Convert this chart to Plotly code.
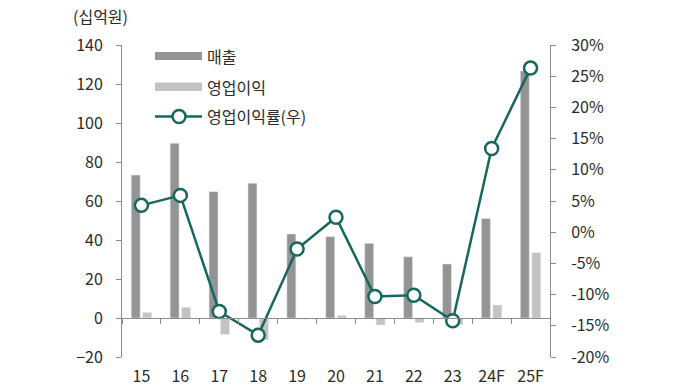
import plotly.graph_objects as go

categories = ["15", "16", "17", "18", "19", "20", "21", "22", "23", "24F", "25F"]
revenue = [73.3, 89.6, 64.8, 69.1, 43.1, 41.7, 38.3, 31.4, 27.7, 51.0, 126.7]
op_profit = [2.9, 5.5, -8.4, -11.3, -0.6, 1.3, -3.6, -2.4, -3.4, 6.7, 33.5]
op_margin = [4.3, 5.9, -12.7, -16.5, -2.7, 2.4, -10.3, -10.1, -14.2, 13.4, 26.3]

left_ticks = list(range(-20, 141, 20))
right_ticks = list(range(-20, 31, 5))

FONT = "Noto Sans CJK KR, Noto Sans, sans-serif"
TXT = "#2b2b2b"
AX = "#8c8c8c"
C_REV = "#949494"
C_OP = "#c3c3c3"
C_LINE = "#17675f"
FS = 16

fig = go.Figure()
fig.add_trace(go.Bar(x=categories, y=revenue, name="매출", marker_color=C_REV,
                     offsetgroup="a", showlegend=False))
fig.add_trace(go.Bar(x=categories, y=op_profit, name="영업이익", marker_color=C_OP,
                     offsetgroup="b", showlegend=False))
fig.add_trace(go.Scatter(x=categories, y=op_margin, name="영업이익률(우)", yaxis="y2",
                         mode="lines+markers",
                         line=dict(color=C_LINE, width=2.5),
                         marker=dict(size=13, color="white", line=dict(color=C_LINE, width=2.5)),
                         showlegend=False))
# invisible trace to carry the zero-line axis
fig.add_trace(go.Scatter(x=categories, y=[0] * len(categories), xaxis="x2", mode="none",
                         showlegend=False, hoverinfo="skip"))

# page coordinates of plot area (body margin removed by post_script)
PL, PR, PT, PB = 122, 550, 45, 357
W, H = 680, 390
L, T = PL, PT
R = W - PR
B = H - PB
pw, ph = PR - PL, PB - PT
xr = [-0.5, len(categories) - 0.5]

def px(x):
    return (x - PL) / pw

def py(y):
    return (PB - y) / ph

shapes = [
    dict(type="rect", xref="paper", yref="paper", x0=px(155), x1=px(202), y0=py(60), y1=py(52),
         fillcolor=C_REV, line=dict(width=0)),
    dict(type="rect", xref="paper", yref="paper", x0=px(155), x1=px(202), y0=py(91), y1=py(82.5),
         fillcolor=C_OP, line=dict(width=0)),
    dict(type="line", xref="paper", yref="paper", x0=px(155), x1=px(202), y0=py(116.5), y1=py(116.5),
         line=dict(color=C_LINE, width=2.5)),
    dict(type="circle", xref="paper", yref="paper", x0=px(172.5), x1=px(185.5), y0=py(123), y1=py(110),
         fillcolor="white", line=dict(color=C_LINE, width=2.5)),
]
annotations = [
    dict(text="(십억원)", xref="paper", yref="paper", x=px(71), y=py(16), xanchor="left",
         yanchor="middle", showarrow=False, font=dict(size=FS, color=TXT, family=FONT)),
    dict(text="매출", xref="paper", yref="paper", x=px(205), y=py(56), xanchor="left",
         yanchor="middle", showarrow=False, font=dict(size=FS, color=TXT, family=FONT)),
    dict(text="영업이익", xref="paper", yref="paper", x=px(205), y=py(86.5), xanchor="left",
         yanchor="middle", showarrow=False, font=dict(size=FS, color=TXT, family=FONT)),
    dict(text="영업이익률(우)", xref="paper", yref="paper", x=px(205), y=py(116.5), xanchor="left",
         yanchor="middle", showarrow=False, font=dict(size=FS, color=TXT, family=FONT)),
]

fig.update_layout(
    width=W, height=H,
    margin=dict(l=L, r=R, t=T, b=B, autoexpand=False),
    paper_bgcolor="white", plot_bgcolor="white",
    font=dict(family=FONT, size=FS, color=TXT),
    barmode="group", bargap=0.41, bargroupgap=0.22,
    showlegend=False,
    shapes=shapes, annotations=annotations,
    xaxis=dict(type="category", categoryarray=categories, range=xr, showline=False, ticks="",
               showgrid=False, zeroline=False, ticklabelstandoff=8, automargin=False,
               tickfont=dict(size=FS, color=TXT)),
    xaxis2=dict(type="category", categoryarray=categories, range=xr, overlaying="x",
                anchor="free", position=(20 / 160), showline=True, linecolor=AX, linewidth=1,
                ticks="outside", tickson="boundaries", ticklen=5, tickcolor=AX, automargin=False,
                showticklabels=False, showgrid=False, zeroline=False),
    yaxis=dict(range=[-20, 140], tickvals=left_ticks, showline=True, linecolor=AX, linewidth=1,
               ticks="outside", ticklen=5, tickcolor=AX, showgrid=False, zeroline=False,
               ticklabelstandoff=10, automargin=False, tickfont=dict(size=FS, color=TXT)),
    yaxis2=dict(range=[-20, 30], tickvals=right_ticks, ticktext=[f"{v}%" for v in right_ticks],
                overlaying="y", side="right", showline=True, linecolor=AX, linewidth=1,
                ticks="outside", ticklen=5, tickcolor=AX, showgrid=False, zeroline=False,
                ticklabelstandoff=12, automargin=False, tickfont=dict(size=FS, color=TXT)),
)

fig.write_html("out.html", config={"displayModeBar": False},
               post_script="document.body.style.margin='0';document.body.style.overflow='hidden';")
